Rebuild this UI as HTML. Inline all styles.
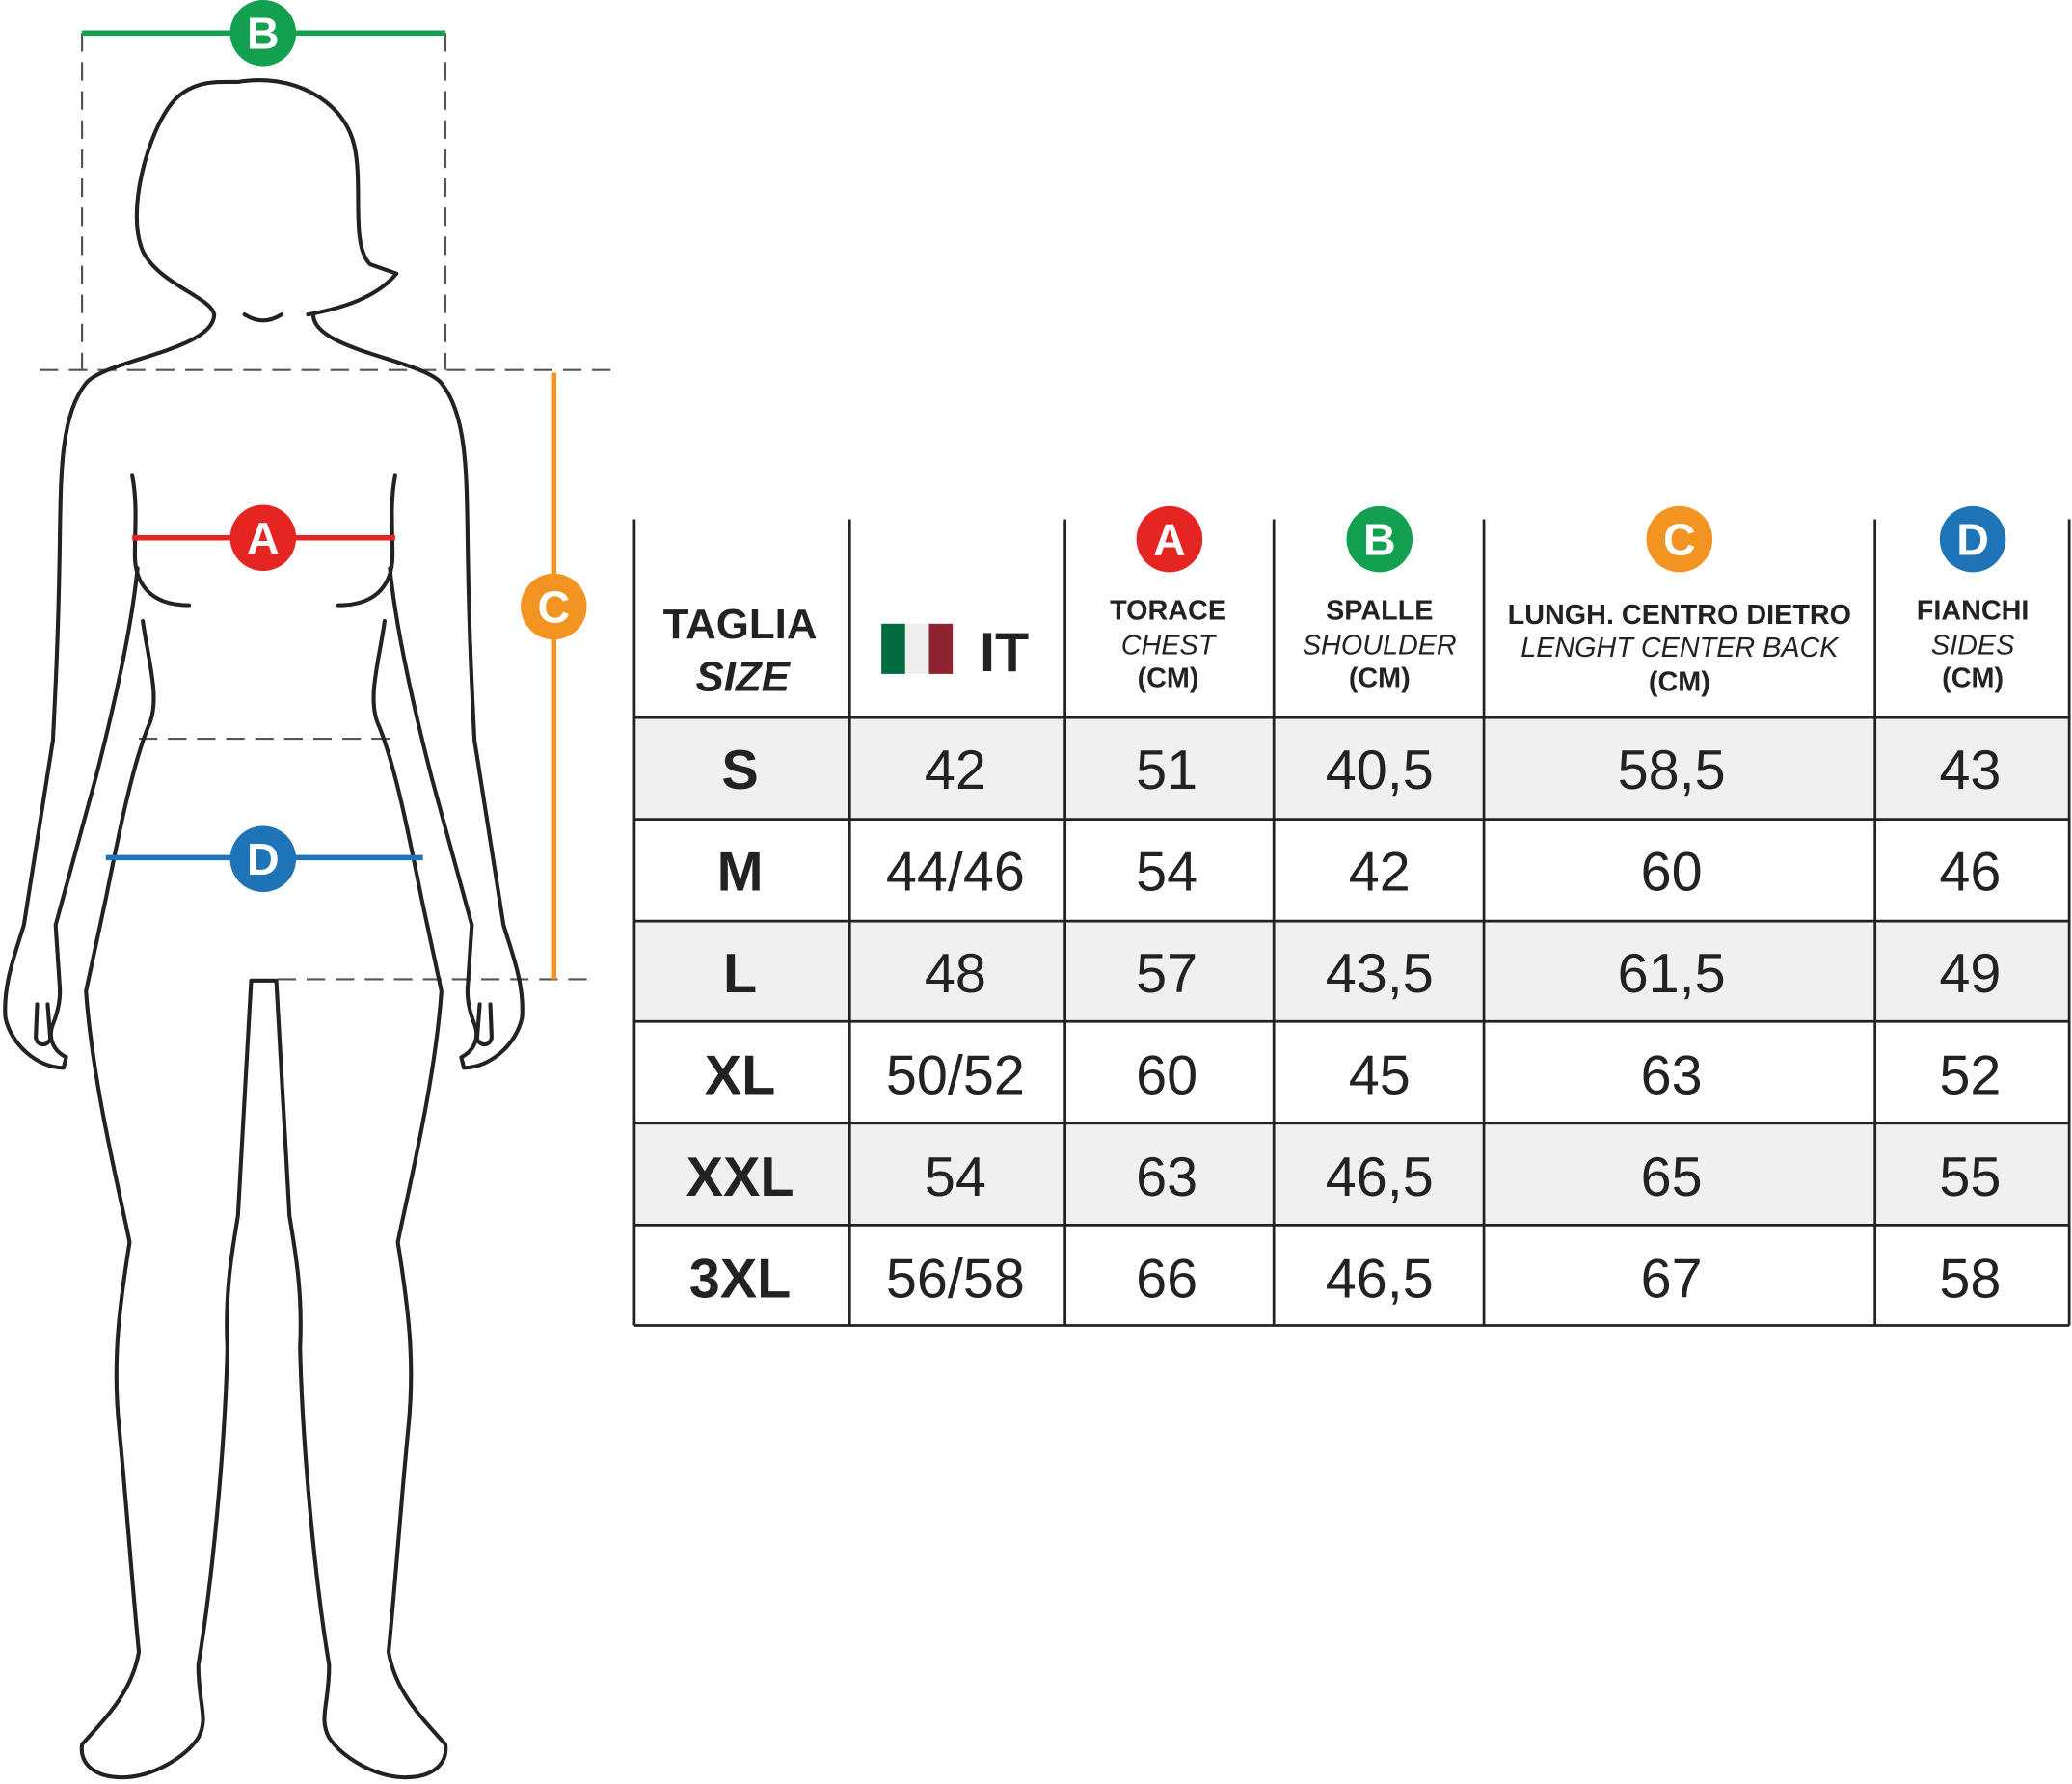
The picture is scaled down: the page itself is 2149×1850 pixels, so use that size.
<!DOCTYPE html>
<html><head><meta charset="utf-8"><style>html,body{margin:0;padding:0;background:#fff}svg{display:block}</style></head>
<body>
<svg width="2149" height="1850" viewBox="0 0 1568 1350" xmlns="http://www.w3.org/2000/svg" font-family="Liberation Sans, sans-serif">
<rect width="1568" height="1350" fill="#fff"/>
<!-- dashed guides -->
<g stroke="#555" stroke-width="1.6" stroke-dasharray="14,8" fill="none">
<line x1="62" y1="25" x2="62" y2="280"/><line x1="337" y1="25" x2="337" y2="280"/>
<line x1="30" y1="280" x2="467" y2="280"/>
<line x1="105" y1="559" x2="295" y2="559"/>
<line x1="210" y1="741" x2="450" y2="741"/>
</g>
<!-- body -->
<g stroke="#222" stroke-width="3" fill="none" stroke-linecap="round" stroke-linejoin="round">
<path d="M162,238 C160,225 120,215 108,190 C95,160 112,100 130,78 C145,60 165,62 180,62 C220,55 260,75 268,110 C275,140 265,185 280,200 L300,207 C285,225 260,233 233,238"/>
<path d="M185,238 Q199,247 213,238"/>
<g id="half">
<path d="M162,238 C162,265 80,272 65,290 C45,315 46,360 45,420 C44,480 42,520 40,560 L18,700 C12,720 2,745 4,770 C8,790 28,808 48,808 L50,800 C40,795 36,785 40,775 C44,765 46,755 45,745 L42,700 L72,590 C90,520 100,470 104,430"/>
<path d="M28,760 L27,785 C28,792 36,792 38,786 L36,760"/>
<path d="M100,360 C104,380 102,400 102,420 C102,440 112,458 143,458"/>
<path d="M108,470 C112,500 122,530 112,550 C100,580 90,630 80,680 L65,750 C70,820 90,900 98,940 C90,990 85,1030 90,1080 C95,1130 100,1200 105,1250 C100,1280 80,1300 62,1320 C60,1335 72,1345 92,1345 C115,1345 140,1330 150,1315 C158,1300 150,1290 150,1260 C160,1200 170,1100 172,1020 C170,980 175,950 180,920 L190,742 L199,742"/>
</g>
<use href="#half" transform="translate(399,0) scale(-1,1)"/>
</g>
<!-- measure lines -->
<line x1="62" y1="25" x2="337" y2="25" stroke="#13a050" stroke-width="4"/>
<line x1="100" y1="407" x2="299" y2="407" stroke="#e52521" stroke-width="4"/>
<line x1="80" y1="649" x2="320" y2="649" stroke="#1f73b7" stroke-width="4"/>
<line x1="419" y1="282" x2="419" y2="741" stroke="#f39322" stroke-width="4"/>
<g font-size="34" font-weight="bold" fill="#fff" text-anchor="middle">
<circle cx="199" cy="25" r="25" fill="#13a050"/><text x="199" y="37">B</text>
<circle cx="199" cy="407" r="25" fill="#e52521"/><text x="199" y="419">A</text>
<circle cx="199" cy="650" r="25" fill="#1f73b7"/><text x="199" y="662">D</text>
<circle cx="419" cy="459" r="25" fill="#f39322"/><text x="419" y="471">C</text>
<circle cx="885" cy="408" r="25" fill="#e52521"/><text x="885" y="420">A</text>
<circle cx="1044" cy="408" r="25" fill="#13a050"/><text x="1044" y="420">B</text>
<circle cx="1271" cy="408" r="25" fill="#f39322"/><text x="1271" y="420">C</text>
<circle cx="1493" cy="408" r="25" fill="#1f73b7"/><text x="1493" y="420">D</text>
</g>
<!-- table -->
<g fill="#f0f0f0">
<rect x="480" y="543" width="1086" height="77"/>
<rect x="480" y="697" width="1086" height="76"/>
<rect x="480" y="850" width="1086" height="77"/>
</g>
<g stroke="#222" stroke-width="2">
<line x1="480" y1="393" x2="480" y2="1003"/><line x1="643" y1="393" x2="643" y2="1003"/>
<line x1="806" y1="393" x2="806" y2="1003"/><line x1="964" y1="393" x2="964" y2="1003"/>
<line x1="1123" y1="393" x2="1123" y2="1003"/><line x1="1419" y1="393" x2="1419" y2="1003"/>
<line x1="1566" y1="393" x2="1566" y2="1003"/>
<line x1="480" y1="543" x2="1566" y2="543"/><line x1="480" y1="620" x2="1566" y2="620"/>
<line x1="480" y1="697" x2="1566" y2="697"/><line x1="480" y1="773" x2="1566" y2="773"/>
<line x1="480" y1="850" x2="1566" y2="850"/><line x1="480" y1="927" x2="1566" y2="927"/>
<line x1="480" y1="1003" x2="1566" y2="1003"/>
</g>
<g fill="#222" text-anchor="middle">
<text x="560" y="483" font-size="32" font-weight="bold">TAGLIA</text>
<text x="562" y="523" font-size="32" font-weight="bold" font-style="italic">SIZE</text>
<rect x="667" y="472" width="18" height="38" fill="#006b3c"/><rect x="685" y="472" width="18" height="38" fill="#eee"/><rect x="703" y="472" width="18" height="38" fill="#8e2332"/>
<text x="760" y="508" font-size="42" font-weight="bold">IT</text>
<g font-size="21">
<text x="884" y="469" font-weight="bold">TORACE</text><text x="884" y="495" font-style="italic">CHEST</text><text x="884" y="520" font-weight="bold">(CM)</text>
<text x="1044" y="469" font-weight="bold">SPALLE</text><text x="1044" y="495" font-style="italic">SHOULDER</text><text x="1044" y="520" font-weight="bold">(CM)</text>
<text x="1271" y="472" font-weight="bold">LUNGH. CENTRO DIETRO</text><text x="1271" y="497" font-style="italic">LENGHT CENTER BACK</text><text x="1271" y="523" font-weight="bold">(CM)</text>
<text x="1493" y="469" font-weight="bold">FIANCHI</text><text x="1493" y="495" font-style="italic">SIDES</text><text x="1493" y="520" font-weight="bold">(CM)</text>
</g>
<g font-size="42" font-weight="bold">
<text x="560" y="597">S</text><text x="560" y="674">M</text><text x="560" y="751">L</text>
<text x="560" y="828">XL</text><text x="560" y="905">XXL</text><text x="560" y="982">3XL</text>
</g>
<g font-size="42">
<text x="723" y="597">42</text><text x="883" y="597">51</text><text x="1044" y="597">40,5</text><text x="1265" y="597">58,5</text><text x="1491" y="597">43</text>
<text x="723" y="674">44/46</text><text x="883" y="674">54</text><text x="1044" y="674">42</text><text x="1265" y="674">60</text><text x="1491" y="674">46</text>
<text x="723" y="751">48</text><text x="883" y="751">57</text><text x="1044" y="751">43,5</text><text x="1265" y="751">61,5</text><text x="1491" y="751">49</text>
<text x="723" y="828">50/52</text><text x="883" y="828">60</text><text x="1044" y="828">45</text><text x="1265" y="828">63</text><text x="1491" y="828">52</text>
<text x="723" y="905">54</text><text x="883" y="905">63</text><text x="1044" y="905">46,5</text><text x="1265" y="905">65</text><text x="1491" y="905">55</text>
<text x="723" y="982">56/58</text><text x="883" y="982">66</text><text x="1044" y="982">46,5</text><text x="1265" y="982">67</text><text x="1491" y="982">58</text>
</g>
</g>
</svg>
</body></html>
